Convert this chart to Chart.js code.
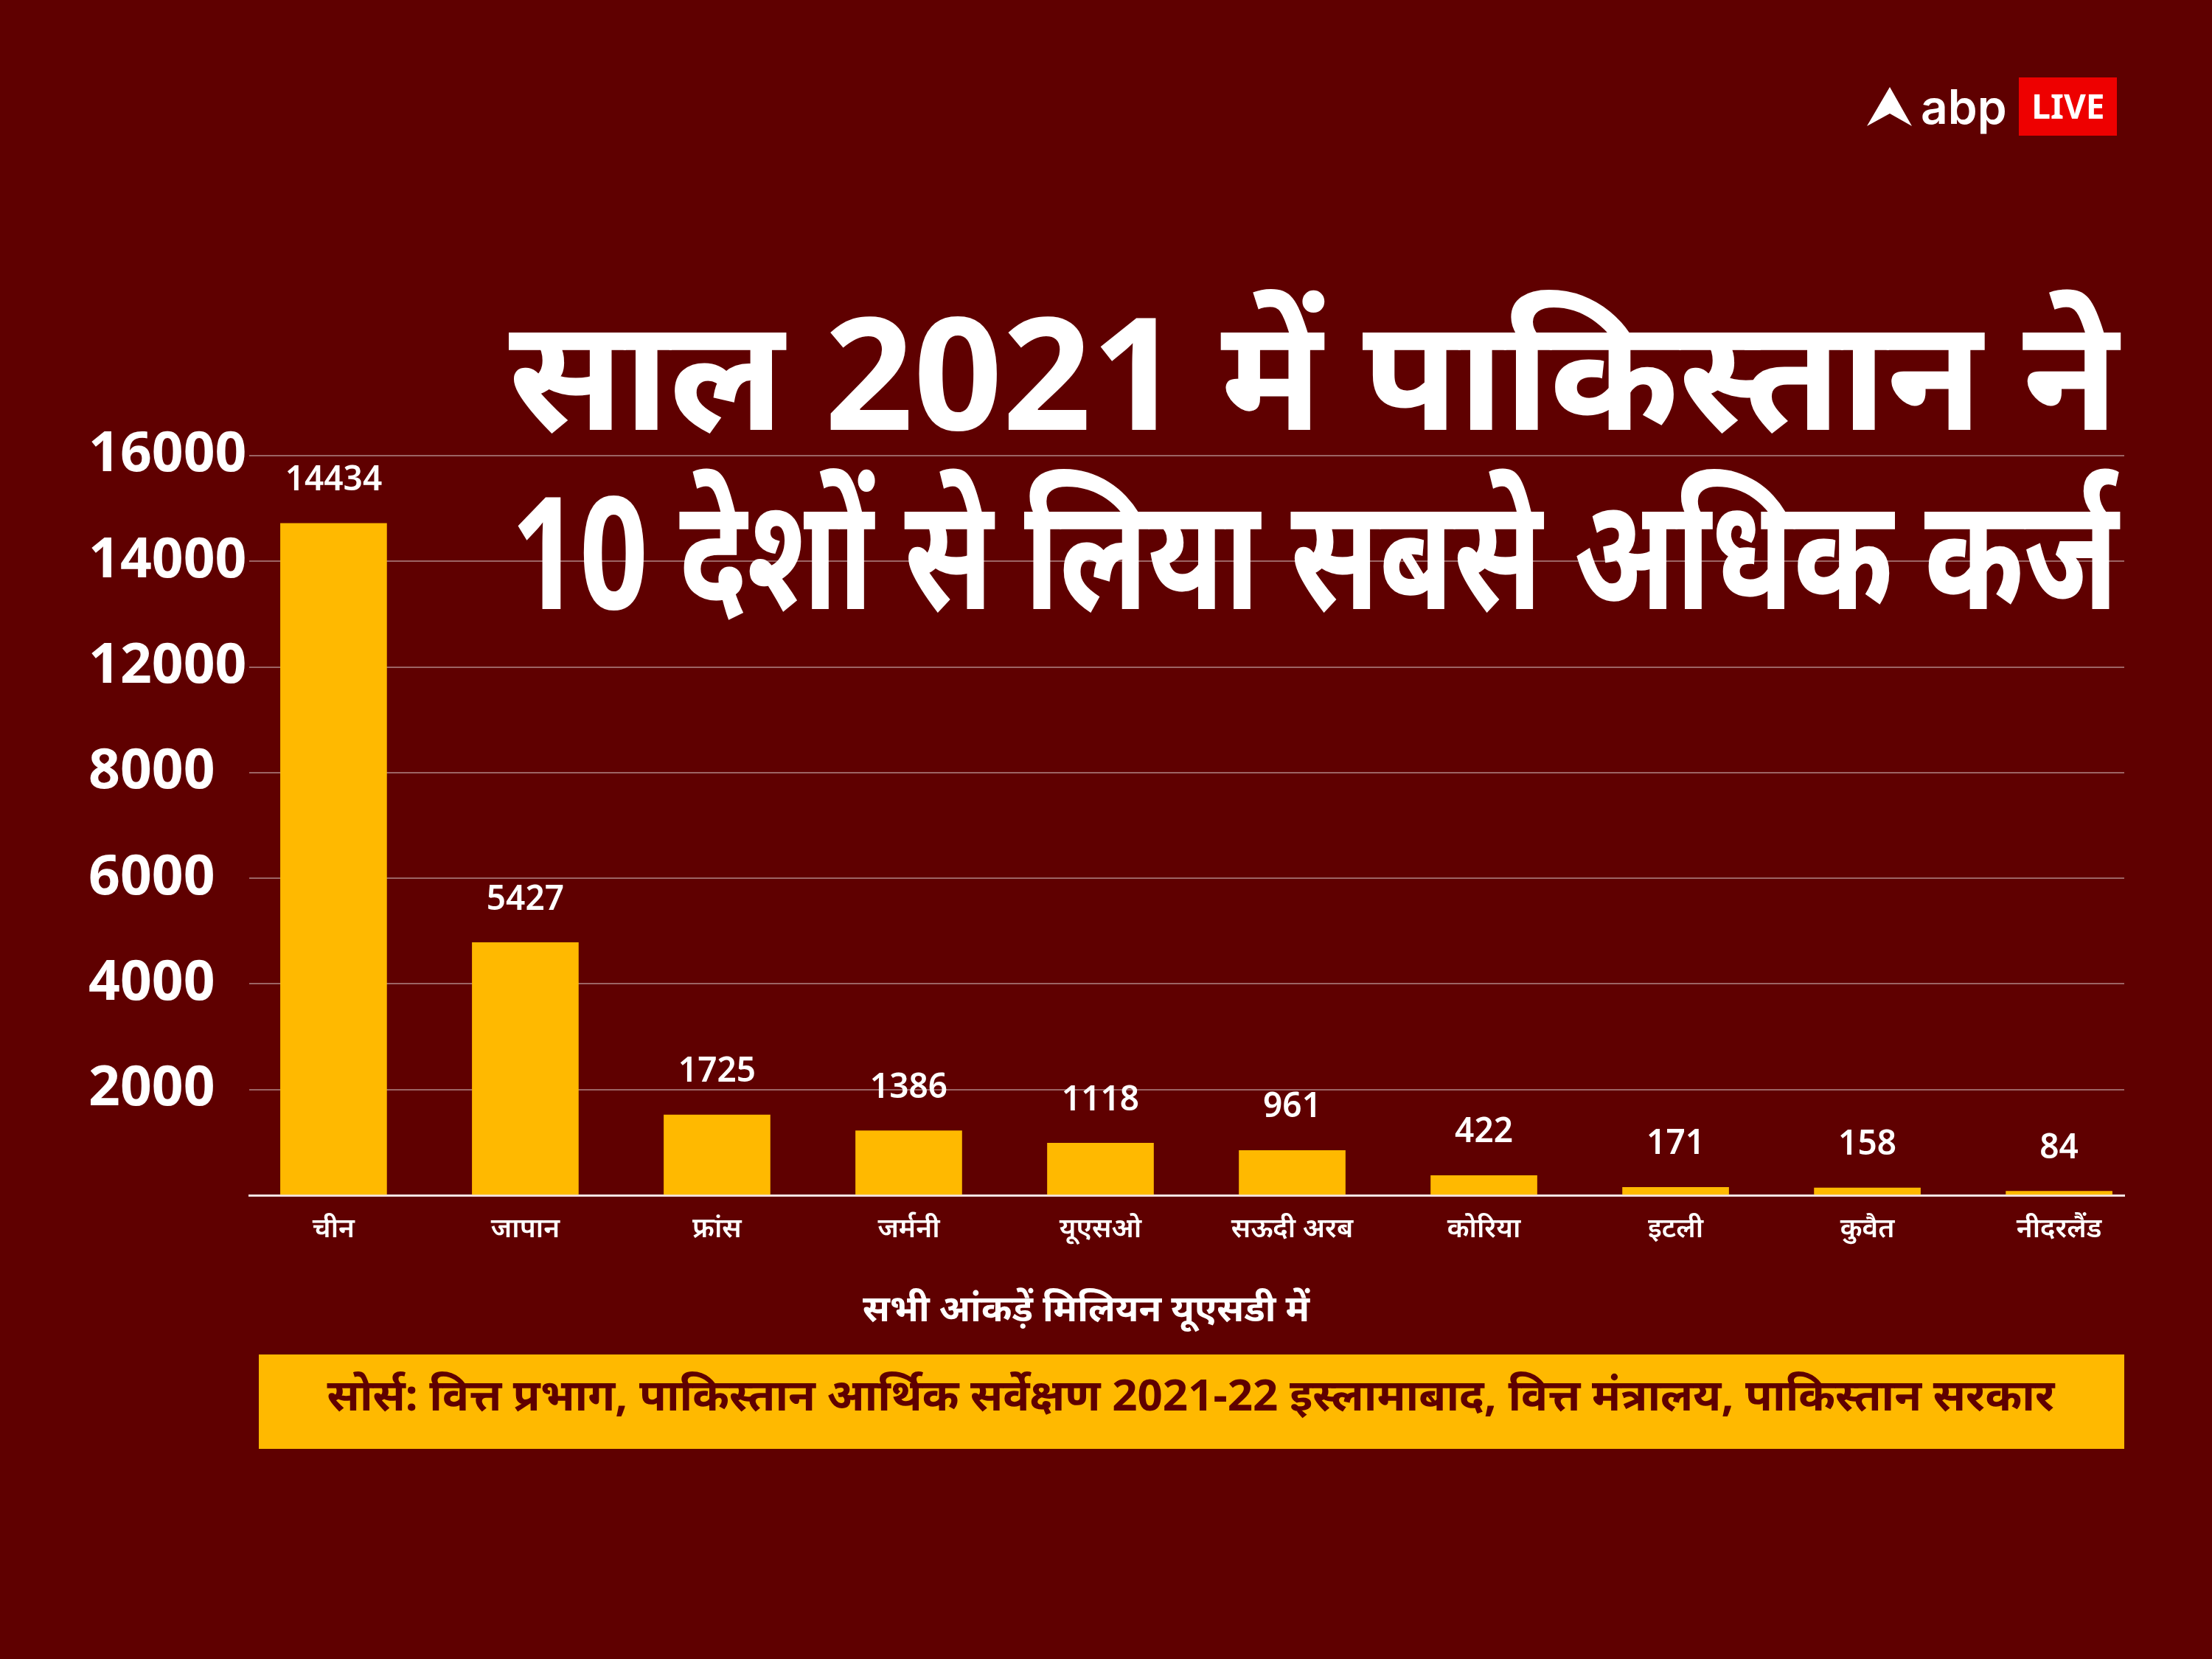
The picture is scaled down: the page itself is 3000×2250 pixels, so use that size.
<!DOCTYPE html>
<html lang="hi">
<head>
<meta charset="utf-8">
<title>साल 2021 में पाकिस्तान ने 10 देशों से लिया सबसे अधिक कर्ज</title>
<script src="https://cdn.jsdelivr.net/npm/chart.js@4.4.1/dist/chart.umd.min.js"></script>
<style>
  html, body { margin: 0; padding: 0; background: #5f0000; }
  #wrap { position: relative; width: 3000px; height: 2250px; }
</style>
</head>
<body>
<div id="wrap"><canvas id="debtChart"></canvas></div>
<script>
// Data (million USD)
const categories = ['चीन', 'जापान', 'फ्रांस', 'जर्मनी', 'यूएसओ', 'सऊदी अरब', 'कोरिया', 'इटली', 'कुवैत', 'नीदरलैंड'];
const loanValues = [14434, 5427, 1725, 1386, 1118, 961, 422, 171, 158, 84];
const yTickLabels = ['', '2000', '4000', '6000', '8000', '12000', '14000', '16000'];

const titleLines = ['साल 2021 में पाकिस्तान ने', '10 देशों से लिया सबसे अधिक कर्ज'];
const unitNote = 'सभी आंकड़ें मिलियन यूएसडी में';
const sourceText = 'सोर्स: वित्त प्रभाग, पाकिस्तान आर्थिक सर्वेक्षण 2021-22 इस्लामाबाद, वित्त मंत्रालय, पाकिस्तान सरकार';

const MAROON = '#5f0000';
const BAR_YELLOW = '#ffb900';
const GRID_COLOR = '#9c6464';
const FONT = "'Noto Sans', 'Open Sans', sans-serif";
// the drawn gridlines are evenly spaced, one every ~2270 units
const GRID_STEP = 2270;

/**
 * Value labels above each bar
 */
const valueLabels = {
  id: 'valueLabels',
  afterDatasetsDraw(chart) {
    const ctx = chart.ctx;
    const meta = chart.getDatasetMeta(0);
    ctx.save();
    ctx.fillStyle = '#ffffff';
    ctx.font = `600 46px ${FONT}`;
    ctx.textAlign = 'center';
    ctx.textBaseline = 'middle';
    meta.data.forEach((bar, i) => {
      ctx.fillText(String(loanValues[i]), bar.x, bar.y - 58);
    });
    ctx.restore();
  }
};

// draw a right-aligned line squeezed/stretched to a given width
function fitText(ctx, text, right, baseline, width) {
  const w = ctx.measureText(text).width;
  ctx.save();
  ctx.translate(right - width, baseline);
  ctx.scale(width / w, 1);
  ctx.textAlign = 'left';
  ctx.fillText(text, 0, 0);
  ctx.restore();
}

/**
 * Headline, logo, unit note and source box
 */
const decor = {
  id: 'decor',
  afterDraw(chart) {
    const ctx = chart.ctx;
    ctx.save();

    // headline (drawn over the gridlines)
    ctx.fillStyle = '#ffffff';
    ctx.font = `bold 212px ${FONT}`;
    ctx.textBaseline = 'alphabetic';
    fitText(ctx, titleLines[0], 2873, 583, 2183);
    fitText(ctx, titleLines[1], 2873, 826, 2180);

    // logo
    ctx.beginPath();
    ctx.moveTo(2563, 118);
    ctx.lineTo(2593, 171);
    ctx.lineTo(2563, 154);
    ctx.lineTo(2532, 171);
    ctx.closePath();
    ctx.fill();
    ctx.font = `600 64px Inter, ${FONT}`;
    ctx.textAlign = 'left';
    ctx.fillText('abp', 2605, 168);
    ctx.fillStyle = '#ee0000';
    ctx.fillRect(2738, 105, 133, 79);
    ctx.fillStyle = '#ffffff';
    ctx.font = `bold 46px ${FONT}`;
    ctx.textAlign = 'center';
    ctx.fillText('LIVE', 2805, 161);

    // unit note
    ctx.font = `bold 50px ${FONT}`;
    ctx.fillText(unitNote, 1473, 1792);

    // source box
    ctx.fillStyle = BAR_YELLOW;
    ctx.fillRect(351, 1837, 2530, 128);
    ctx.fillStyle = MAROON;
    ctx.font = `bold 60px ${FONT}`;
    ctx.fillText(sourceText, 1615, 1913);

    ctx.restore();
  }
};

const ctx = document.getElementById('debtChart').getContext('2d');
new Chart(ctx, {
  type: 'bar',
  data: {
    datasets: [{
      label: 'कर्ज (मिलियन यूएसडी)',
      data: loanValues.map((v, i) => ({ x: i, y: v })),
      backgroundColor: BAR_YELLOW,
      borderWidth: 0,
      barThickness: 144
    }]
  },
  options: {
    responsive: true,
    maintainAspectRatio: false,
    animation: false,
    devicePixelRatio: 1,
    layout: {
      padding: { top: 618, left: 120, right: 119, bottom: 0 }
    },
    plugins: {
      legend: { display: false },
      tooltip: { enabled: false },
      title: { display: false }
    },
    scales: {
      x: {
        type: 'linear',
        offset: false,
        min: -0.44,
        max: 9.34,
        afterBuildTicks: (axis) => {
          axis.ticks = categories.map((_, i) => ({ value: i }));
        },
        afterFit: (axis) => { axis.height = 2250 - 1621; },
        ticks: {
          color: '#ffffff',
          font: { family: FONT, size: 37, weight: '600' },
          padding: 24,
          maxRotation: 0,
          autoSkip: false,
          callback: (value) => categories[value]
        },
        grid: { display: false, drawTicks: false },
        border: { display: true, color: '#f3e3e3', width: 3 }
      },
      y: {
        min: 0,
        max: GRID_STEP * (yTickLabels.length - 1),
        afterBuildTicks: (axis) => {
          axis.ticks = yTickLabels.map((_, i) => ({ value: i * GRID_STEP }));
        },
        afterFit: (axis) => { axis.width = 218; },
        ticks: {
          color: '#ffffff',
          font: { family: FONT, size: 75, weight: 'bold' },
          crossAlign: 'far',
          padding: 0,
          callback: (value, index) => yTickLabels[index]
        },
        grid: {
          drawTicks: false,
          lineWidth: 2,
          color: (c) => (c.tick && c.tick.value === 0 ? 'rgba(0,0,0,0)' : GRID_COLOR)
        },
        border: { display: false }
      }
    }
  },
  plugins: [valueLabels, decor]
});
</script>
</body>
</html>
